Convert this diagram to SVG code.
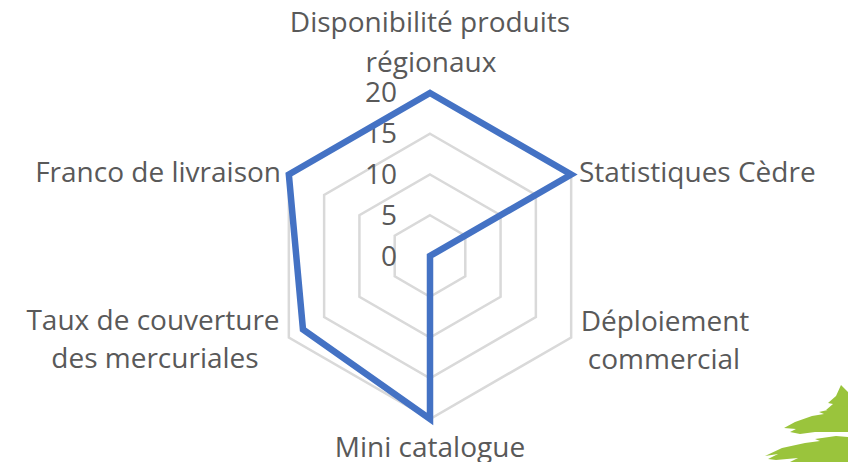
<svg xmlns="http://www.w3.org/2000/svg" width="848" height="462" viewBox="0 0 848 462">
  <style>
    .grid { fill: none; stroke: #D9D9D9; stroke-width: 2.5; }
    .series { fill: none; stroke: #4472C4; stroke-width: 6.5; stroke-linejoin: miter; stroke-miterlimit: 10; }
    .lbl { font-family: "Open Sans", "Noto Sans", "Liberation Sans", sans-serif; font-size: 28px; fill: #595959; }
    .tick { font-family: "Open Sans", "Noto Sans", "Liberation Sans", sans-serif; font-size: 28px; fill: #595959; text-anchor: end; }
    .logo { fill: #9AC43C; }
  </style>
  <rect x="0" y="0" width="848" height="462" fill="#FFFFFF"/>

  <g id="gridlines">
    <polygon class="grid" points="430,215.25 465.29,235.63 465.29,276.38 430,296.75 394.71,276.38 394.71,235.63"/>
    <polygon class="grid" points="430,174.5 500.58,215.25 500.58,296.75 430,337.5 359.42,296.75 359.42,215.25"/>
    <polygon class="grid" points="430,133.75 535.87,194.88 535.87,317.13 430,378.25 324.13,317.13 324.13,194.88"/>
    <polygon class="grid" points="430,93 571.16,174.5 571.16,337.5 430,419 288.84,337.5 288.84,174.5"/>
  </g>

  <g id="logo">
    <path class="logo" d="M841 385 L848 392 L848 410 L826 410 L833 404 L828 403 L836 396 Z"/>
    <path class="logo" d="M838 405 L848 407 L848 432 L815 432 L800 434 L790 432 L796 429 L784 428 L795 422 L812 416 L824 414 L819 412 L832 409 Z"/>
    <path class="logo" d="M836 436 L848 437 L848 462 L790 462 L798 458 L776 460 L768 459 L778 454 L765 456 L782 448 L805 443 L820 441 L815 439 Z"/>
  </g>

  <g id="axis-ticks">
    <text class="tick" x="397" y="102">20</text>
    <text class="tick" x="397" y="143">15</text>
    <text class="tick" x="397" y="183.5">10</text>
    <text class="tick" x="397" y="224.5">5</text>
    <text class="tick" x="397" y="265.5">0</text>
  </g>

  <g id="series">
    <polygon class="series" points="430,93 571.16,174.5 430,256 430,419 302.96,329.35 288.84,174.5"/>
  </g>

  <g id="cat-disponibilite">
    <text class="lbl" x="430" y="32" text-anchor="middle">Disponibilité produits</text>
    <text class="lbl" x="431" y="72" text-anchor="middle">régionaux</text>
  </g>
  <g id="cat-statistiques">
    <text class="lbl" x="579" y="182">Statistiques Cèdre</text>
  </g>
  <g id="cat-deploiement">
    <text class="lbl" x="665" y="331" text-anchor="middle">Déploiement</text>
    <text class="lbl" x="664" y="369" text-anchor="middle">commercial</text>
  </g>
  <g id="cat-mini-catalogue">
    <text class="lbl" x="430" y="457" text-anchor="middle">Mini catalogue</text>
  </g>
  <g id="cat-taux">
    <text class="lbl" x="153" y="330" text-anchor="middle">Taux de couverture</text>
    <text class="lbl" x="155" y="368" text-anchor="middle">des mercuriales</text>
  </g>
  <g id="cat-franco">
    <text class="lbl" x="281" y="182" text-anchor="end">Franco de livraison</text>
  </g>
</svg>
